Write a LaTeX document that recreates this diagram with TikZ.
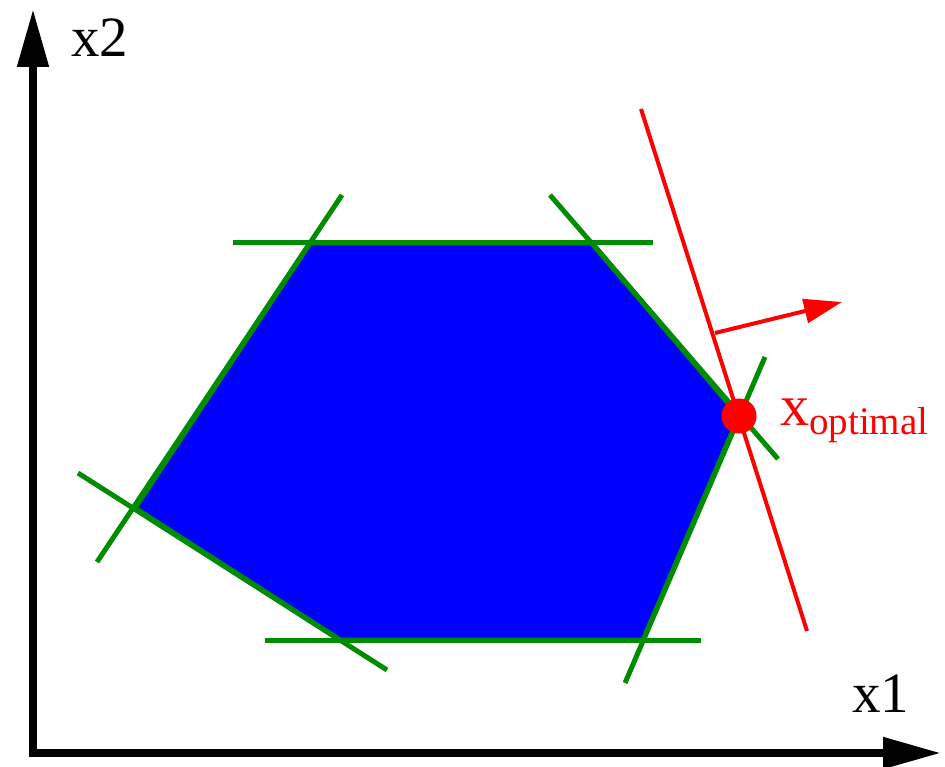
\documentclass[tikz,border=0pt]{standalone}
\usepackage{fontspec}
\setmainfont{Liberation Serif}
\usetikzlibrary{arrows.meta}
\definecolor{pgreen}{RGB}{0,140,0}
\definecolor{pblue}{RGB}{0,0,255}
\definecolor{pred}{RGB}{255,0,0}
\begin{document}
\begin{tikzpicture}[x=1pt,y=-1pt,
  axis/.style={line width=8pt,-{Triangle[length=58pt,width=30pt]}},
  gline/.style={pgreen,line width=5pt},
  rline/.style={pred,line width=4pt},
  lab/.style={font=\fontsize{57}{57}\selectfont,inner sep=0pt}]
\useasboundingbox (0,0) rectangle (945,767);
% polygon
\coordinate (A) at (310,243);
\coordinate (B) at (592,243);
\coordinate (C) at (739,416);
\coordinate (D) at (643,640);
\coordinate (E) at (340,640);
\coordinate (F) at (135,508);
\filldraw[fill=pblue,draw=pgreen,line width=5pt,line join=round] (A) -- (B) -- (C) -- (D) -- (E) -- (F) -- cycle;
% constraint lines
\coordinate (t1) at (233,243); \coordinate (t2) at (653,243);
\coordinate (l1) at (342,195); \coordinate (l2) at (97,562);
\coordinate (ll1) at (78,473); \coordinate (ll2) at (387,670);
\coordinate (b1) at (265,640); \coordinate (b2) at (701,640);
\coordinate (r1) at (625,683); \coordinate (r2) at (765,357);
\coordinate (u1) at (550,195); \coordinate (u2) at (778,459);
\draw[gline] (t1) -- (t2);
\draw[gline] (l1) -- (l2);
\draw[gline] (ll1) -- (ll2);
\draw[gline] (b1) -- (b2);
\draw[gline] (r1) -- (r2);
\draw[gline] (u1) -- (u2);
% objective line
\coordinate (o1) at (641,109); \coordinate (o2) at (807,631);
\draw[rline] (o1) -- (o2);
\coordinate (g1) at (715,333); \coordinate (g2) at (842,302);
\draw[rline,-{Triangle[length=38pt,width=24pt]}] (g1) -- (g2);
\node[circle,fill=pred,minimum size=35pt,inner sep=0pt] (opt) at (739,416) {};
\node[anchor=base west,inner sep=0pt,text=pred] (xopt) at (780,425)
  {\fontsize{58}{58}\selectfont x\raisebox{-9pt}{\fontsize{39}{39}\selectfont optimal}};
% axes
\coordinate (O) at (33,753);
\coordinate (Y) at (33,9);
\coordinate (X) at (941,753);
\draw[axis] ([yshift=4pt]O) -- (Y);
\draw[axis] ([xshift=-4pt]O) -- (X);
\node[lab,anchor=base west] (x2) at (71,57) {x2};
\node[lab,anchor=base west] (x1) at (852,712) {x1};
\end{tikzpicture}
\end{document}
